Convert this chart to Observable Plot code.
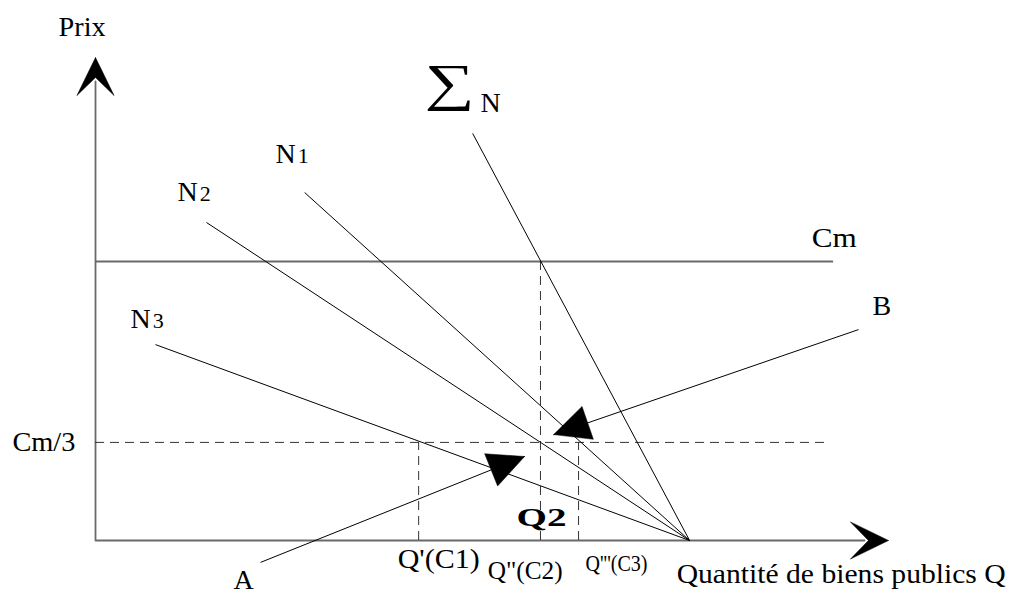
<!DOCTYPE html>
<html><head><meta charset="utf-8">
<script src="https://cdn.jsdelivr.net/npm/d3@7"></script>
<script src="https://cdn.jsdelivr.net/npm/@observablehq/plot@0.6"></script>
<style>html,body{margin:0;padding:0;background:#fff;} svg{display:block}</style>
</head><body><div id="chart"></div>
<script>
// Diagram units (1 unit ≈ 30 px on both axes)
const axisMaxQ = 26.43;
const axisMaxP = 16.1;
const convergenceQ = 19.8;
const demandNames = ["N1", "N2", "N3", "ΣN"];
const demandStartQ = [6.97, 3.7, 2.0, 12.57];
const demandStartP = [11.6, 10.6, 6.53, 13.57];
const cm = 9.3;
const cmEndQ = 24.6;
const cmThird = 3.27;
const cmThirdEndQ = 24.33;
const quantityNames = ["Q'", "Q''", "Q'''"];
const quantityQ = [10.77, 14.83, 16.1];
const quantityTopP = [3.27, 9.3, 3.27];
const pointerNames = ["A", "B"];
const pointerFromQ = [5.5, 25.43];
const pointerFromP = [-0.73, 7.03];
const pointerToQ = [14.3, 15.27];
const pointerToP = [2.8, 3.53];
const labelTexts = ["Prix", "∑", "N", "N1", "N2", "N3", "Cm", "B", "A", "Cm/3", "Q2", "Q'(C1)", "Q\"(C2)", "Q'''(C3)", "Quantité de biens publics Q"];
const labelQ = [-1.23, 10.97, 12.83, 6.0, 2.73, 1.17, 23.87, 25.9, 4.6, -2.77, 14.03, 10.07, 13.07, 16.33, 19.37];
const labelP = [16.83, 14.67, 14.3, 12.57, 11.33, 7.07, 9.8, 7.53, -1.6, 2.97, 0.5, -0.9, -1.27, -1.03, -1.4];

// styles (not data)
const labelStyle = new Map([
  ["Prix", {size: 28, len: 47}],
  ["∑", {size: 52, len: 50}],
  ["N", {size: 28}],
  ["N1", {size: 28, sub: 22}],
  ["N2", {size: 28, sub: 22}],
  ["N3", {size: 28, sub: 22}],
  ["Cm", {size: 28, len: 45}],
  ["B", {size: 28}],
  ["A", {size: 28}],
  ["Cm/3", {size: 28, len: 63}],
  ["Q2", {size: 26, len: 50, weight: "bold"}],
  ["Q'(C1)", {size: 27, len: 82}],
  ["Q\"(C2)", {size: 26, len: 75}],
  ["Q'''(C3)", {size: 23, len: 62}],
  ["Quantité de biens publics Q", {size: 28, len: 329}]
]);
const font = "Liberation Serif, DejaVu Serif, serif";

const demands = demandNames.map((name, i) => ({name, q1: demandStartQ[i], p1: demandStartP[i], q2: convergenceQ, p2: 0}));
const quantities = quantityNames.map((name, i) => ({name, q: quantityQ[i], top: quantityTopP[i]}));
const pointers = pointerNames.map((name, i) => ({name, q1: pointerFromQ[i], p1: pointerFromP[i], q2: pointerToQ[i], p2: pointerToP[i]}));
const labels = labelTexts.map((text, i) => ({text, q: labelQ[i], p: labelP[i]}));

function headPolygon(id, tipQ, tipP, fromQ, fromP, len, halfW, notch) {
  const dx = tipQ - fromQ, dy = tipP - fromP, L = Math.hypot(dx, dy);
  const ux = dx / L, uy = dy / L, nx = -uy, ny = ux;
  const bq = tipQ - ux * len, bp = tipP - uy * len;
  const pts = [[tipQ, tipP], [bq + nx * halfW, bp + ny * halfW]];
  if (notch) pts.push([tipQ - ux * notch, tipP - uy * notch]);
  pts.push([bq - nx * halfW, bp - ny * halfW], [tipQ, tipP]);
  return pts.map(([q, p]) => ({id, q, p}));
}
const heads = [
  ...headPolygon("yaxis", 0, axisMaxP, 0, 0, 1.27, 0.62, 0.67),
  ...headPolygon("xaxis", axisMaxQ, 0, 0, 0, 1.27, 0.62, 0.67),
  ...pointers.flatMap(d => headPolygon(d.name, d.q2, d.p2, d.q1, d.p1, 1.2, 0.58, 0))
];
const axisPath = [
  {q: 0, p: axisMaxP - 0.8},
  {q: 0, p: 0},
  {q: axisMaxQ - 0.8, p: 0}
];

const chart = Plot.plot({
  width: 1010,
  height: 593,
  marginLeft: 95,
  marginRight: 122,
  marginTop: 57,
  marginBottom: 53,
  style: "background:#fff;overflow:visible;font-family:'Liberation Serif','DejaVu Serif',serif;",
  x: {domain: [0, axisMaxQ], axis: null},
  y: {domain: [0, axisMaxP], axis: null},
  marks: [
    Plot.line(axisPath, {x: "q", y: "p", stroke: "#6a6a6a", strokeWidth: 1.8}),
    Plot.ruleY([cm], {x1: 0, x2: cmEndQ, stroke: "#6a6a6a", strokeWidth: 1.8}),
    Plot.ruleY([cmThird], {x1: 0, x2: cmThirdEndQ, stroke: "#333", strokeWidth: 1, strokeDasharray: "9,6"}),
    Plot.ruleX(quantities, {x: "q", y1: 0, y2: "top", stroke: "#333", strokeWidth: 1, strokeDasharray: "9,6"}),
    Plot.link(demands, {x1: "q1", y1: "p1", x2: "q2", y2: "p2", stroke: "#000", strokeWidth: 1}),
    Plot.link(pointers, {x1: "q1", y1: "p1", x2: "q2", y2: "p2", stroke: "#000", strokeWidth: 1}),
    Plot.line(heads, {x: "q", y: "p", z: "id", fill: "#000", stroke: "#000", strokeWidth: 0.5}),
    Plot.text(labels, {
      x: "q", y: "p", text: "text",
      textAnchor: "start", lineAnchor: "bottom",
      fontSize: d => labelStyle.get(d.text).size,
      fill: "#000", fontFamily: font
    })
  ]
});

chart.querySelectorAll("text").forEach(el => {
  const s = labelStyle.get(el.textContent);
  if (!s) return;
  el.setAttribute("font-family", font);
  el.style.setProperty("font-family", "'Liberation Serif', 'DejaVu Serif', serif", "important");
  if (s.weight) el.setAttribute("font-weight", s.weight);
  if (s.len) {
    el.setAttribute("textLength", s.len);
    el.setAttribute("lengthAdjust", "spacingAndGlyphs");
  }
  if (s.sub) {
    const t = el.textContent;
    el.textContent = t[0];
    const ts = document.createElementNS("http://www.w3.org/2000/svg", "tspan");
    ts.setAttribute("font-size", s.sub);
    ts.setAttribute("dx", "2");
    ts.textContent = t.slice(1);
    el.appendChild(ts);
  }
});

document.getElementById("chart").appendChild(chart);
</script>
</body></html>
